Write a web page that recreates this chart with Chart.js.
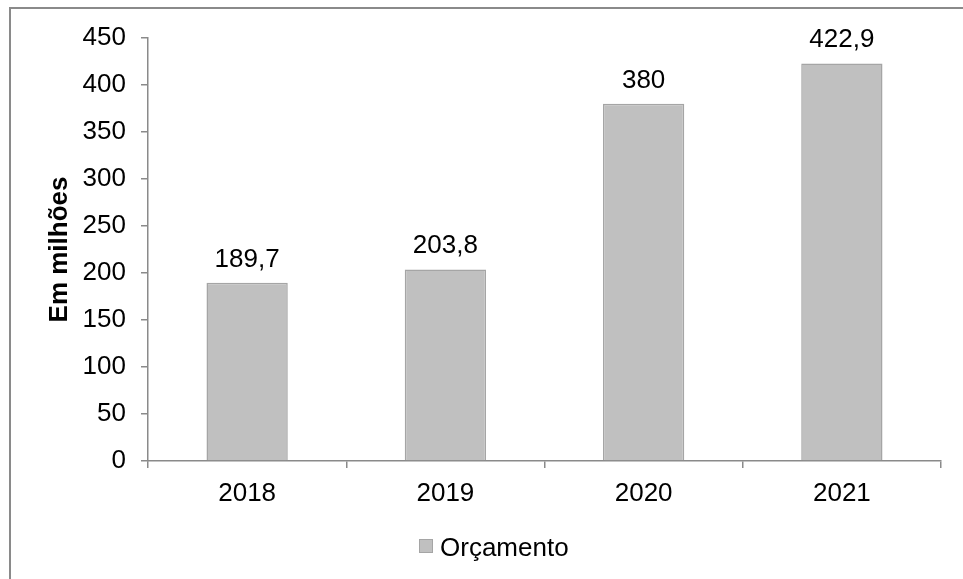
<!DOCTYPE html>
<html>
<head>
<meta charset="utf-8">
<script src="https://cdn.jsdelivr.net/npm/chart.js@4/dist/chart.umd.min.js"></script>
<style>
  html, body { margin: 0; padding: 0; background: #fff; overflow: hidden; }
  #wrap { position: relative; width: 963px; height: 579px; }
  #frame { position: absolute; left: 9px; top: 7px; width: 1000px; height: 700px;
           border-left: 2px solid #8a8a8a; border-top: 2px solid #8a8a8a; }
  canvas { position: absolute; left: 0; top: 0; }
</style>
</head>
<body>
<div id="wrap">
  <div id="frame"></div>
  <canvas id="c" width="963" height="579"></canvas>
</div>
<script>
const years = ['2018', '2019', '2020', '2021'];
const orcamento = [189.7, 203.8, 380, 422.9];
const valueLabels = ['189,7', '203,8', '380', '422,9'];
const seriesName = 'Orçamento';
const axisTitle = 'Em milhões';

const FONT = "'Liberation Sans', Arial, sans-serif";
const SIZE = 26;
const BAR_FILL = '#c0c0c0';
const BAR_EDGE = '#a5a5a5';

// Writes each value just above its bar
const barValues = {
  id: 'barValues',
  afterDatasetsDraw(chart) {
    const ctx = chart.ctx;
    const meta = chart.getDatasetMeta(0);
    ctx.save();
    ctx.font = SIZE + 'px ' + FONT;
    ctx.fillStyle = '#000';
    ctx.textAlign = 'center';
    ctx.textBaseline = 'alphabetic';
    meta.data.forEach((bar, i) => {
      ctx.fillText(valueLabels[i], bar.x, bar.y - 16);
    });
    ctx.restore();
  }
};

// Single-entry key under the category labels
const seriesKey = {
  id: 'seriesKey',
  afterDraw(chart) {
    const ctx = chart.ctx;
    const box = 14;
    const gap = 7;
    ctx.save();
    ctx.font = SIZE + 'px ' + FONT;
    const tw = ctx.measureText(seriesName).width;
    const total = box + gap + tw;
    const cx = 493.5;
    const baseline = 556;
    const x0 = Math.round(cx - total / 2);
    ctx.fillStyle = BAR_FILL;
    ctx.fillRect(x0, baseline - 17, box, box);
    ctx.strokeStyle = BAR_EDGE;
    ctx.lineWidth = 1;
    ctx.strokeRect(x0 + 0.5, baseline - 16.5, box - 1, box - 1);
    ctx.fillStyle = '#000';
    ctx.textAlign = 'left';
    ctx.textBaseline = 'alphabetic';
    ctx.fillText(seriesName, x0 + box + gap, baseline);
    ctx.restore();
  }
};

new Chart(document.getElementById('c'), {
  type: 'bar',
  data: {
    labels: years,
    datasets: [{
      label: seriesName,
      data: orcamento,
      backgroundColor: BAR_FILL,
      borderColor: BAR_EDGE,
      borderWidth: 1.5,
      categoryPercentage: 1,
      barPercentage: 0.41
    }]
  },
  options: {
    responsive: false,
    animation: false,
    devicePixelRatio: 1,
    layout: { padding: { left: 0, right: 22, top: 38, bottom: 78 } },
    plugins: {
      tooltip: { enabled: false },
      legend: { display: false }
    },
    scales: {
      x: {
        afterFit(scale) { scale.height = 40; },
        grid: { display: true, drawOnChartArea: false, drawTicks: true, tickLength: 7, color: '#8a8a8a', lineWidth: 1.5, offset: true },
        border: { display: true, color: '#8a8a8a', width: 1.5 },
        ticks: { color: '#000', font: { family: FONT, size: SIZE }, padding: 10, maxRotation: 0 }
      },
      y: {
        min: 0,
        max: 450,
        afterFit(scale) { scale.width = 148; },
        grid: { display: true, drawOnChartArea: false, drawTicks: true, tickLength: 7, color: '#8a8a8a', lineWidth: 1.5 },
        border: { display: true, color: '#8a8a8a', width: 1.5 },
        ticks: { stepSize: 50, color: '#000', font: { family: FONT, size: SIZE }, padding: 15 },
        title: {
          display: true,
          text: axisTitle,
          color: '#000',
          font: { family: FONT, size: SIZE, weight: 'bold' },
          padding: { top: 44, bottom: 0 }
        }
      }
    }
  },
  plugins: [barValues, seriesKey]
});
</script>
</body>
</html>
